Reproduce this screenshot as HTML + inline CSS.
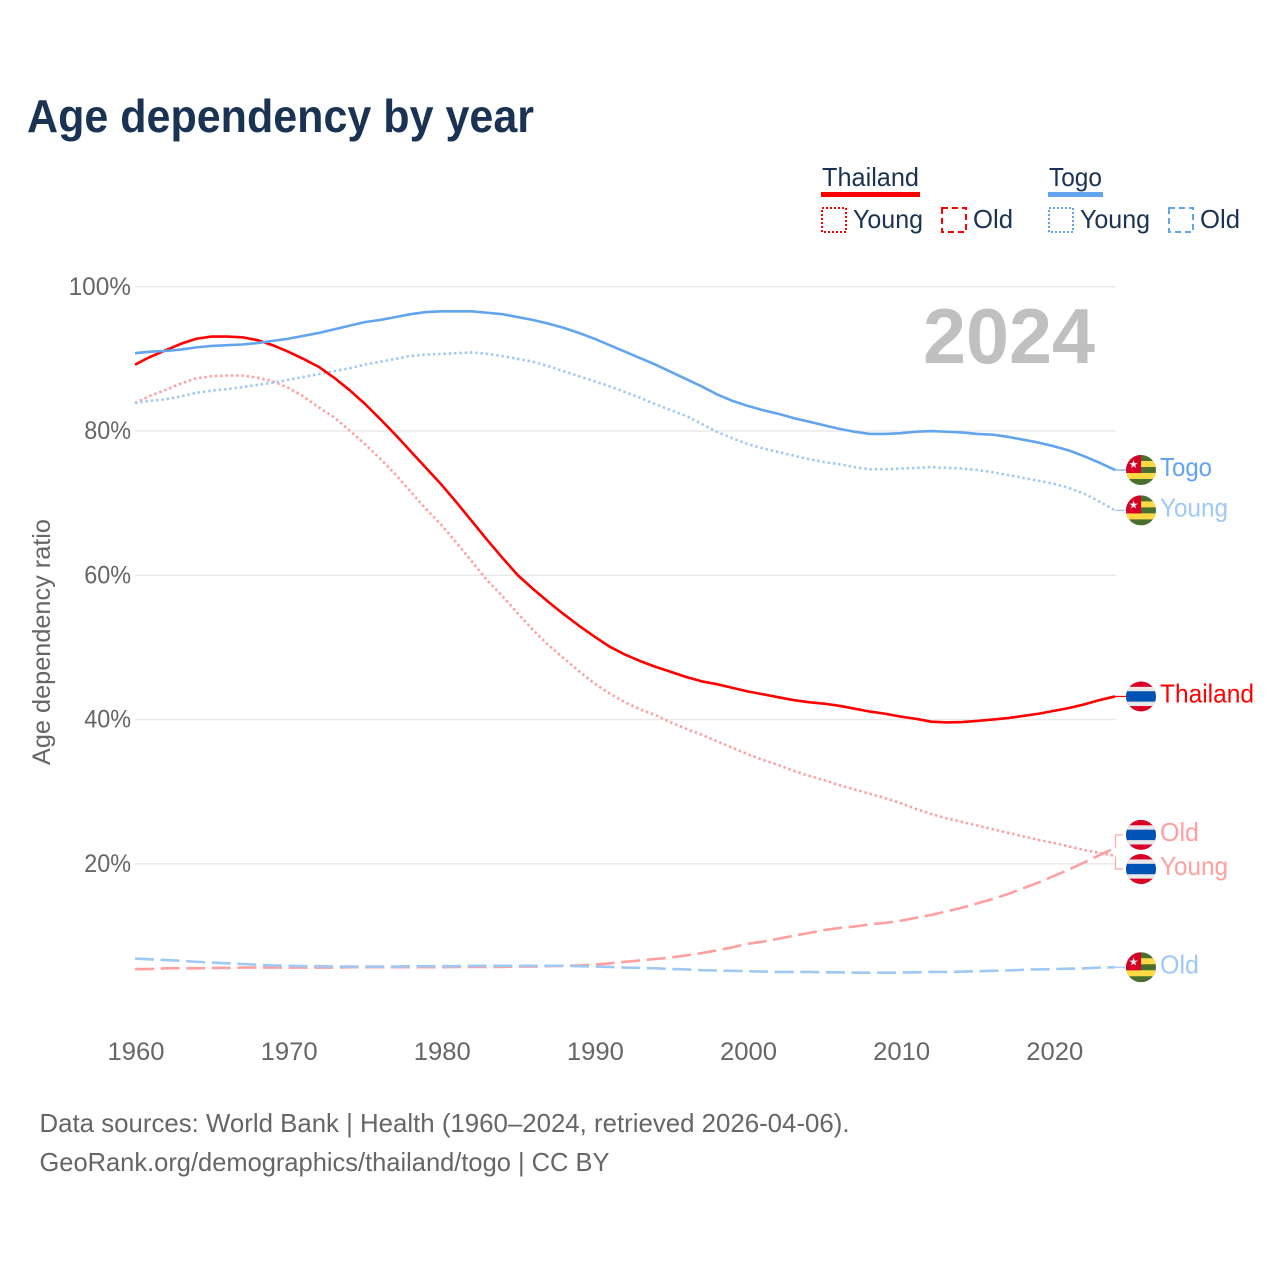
<!DOCTYPE html>
<html lang="en">
<head>
<meta charset="utf-8">
<title>Age dependency by year</title>
<style>
html,body{margin:0;padding:0;background:#fff;}
svg{display:block;font-family:"Liberation Sans",sans-serif;}
</style>
</head>
<body>
<svg id="chart" xmlns="http://www.w3.org/2000/svg" width="1280" height="1280" viewBox="0 0 1280 1280">
  <rect width="1280" height="1280" fill="#fff"/>
  <text x="27" y="132" font-size="46" font-weight="700" fill="#1a3353" textLength="507" lengthAdjust="spacingAndGlyphs">Age dependency by year</text>

  <g font-size="26" fill="#1a3353">
    <text x="822" y="186" textLength="97" lengthAdjust="spacingAndGlyphs">Thailand</text>
    <rect x="821" y="192" width="99" height="5" fill="#ff0000"/>
    <rect x="822" y="208" width="24" height="24" fill="none" stroke="#ff0000" stroke-width="2" stroke-dasharray="2 2"/>
    <text x="853" y="228" textLength="70" lengthAdjust="spacingAndGlyphs">Young</text>
    <rect x="942" y="208" width="24" height="24" fill="none" stroke="#ff0000" stroke-width="2" stroke-dasharray="6 4"/>
    <text x="973" y="228" textLength="40" lengthAdjust="spacingAndGlyphs">Old</text>
    <text x="1049" y="186" textLength="53" lengthAdjust="spacingAndGlyphs">Togo</text>
    <rect x="1048" y="192" width="55" height="5" fill="#62a5ee"/>
    <rect x="1049" y="208" width="24" height="24" fill="none" stroke="#62a5ee" stroke-width="2" stroke-dasharray="2 2"/>
    <text x="1080" y="228" textLength="70" lengthAdjust="spacingAndGlyphs">Young</text>
    <rect x="1169" y="208" width="24" height="24" fill="none" stroke="#62a5ee" stroke-width="2" stroke-dasharray="6 4"/>
    <text x="1200" y="228" textLength="40" lengthAdjust="spacingAndGlyphs">Old</text>
  </g>

  <g id="grid"></g>
  <g id="yticks" font-size="25" fill="#666" text-anchor="end"></g>
  <g id="xticks" font-size="25" fill="#666" text-anchor="middle"></g>
  <text transform="translate(50,642) rotate(-90)" font-size="25" fill="#666" text-anchor="middle" textLength="246" lengthAdjust="spacingAndGlyphs">Age dependency ratio</text>
  <text x="923" y="363" font-size="78" font-weight="700" fill="#c0c0c0" textLength="172" lengthAdjust="spacingAndGlyphs">2024</text>

  <g id="series"></g>
  <g id="labels" font-size="26"></g>

  <g font-size="26" fill="#666">
    <text x="39.5" y="1132" textLength="810" lengthAdjust="spacingAndGlyphs">Data sources: World Bank | Health (1960–2024, retrieved 2026-04-06).</text>
    <text x="39.5" y="1171" textLength="570" lengthAdjust="spacingAndGlyphs">GeoRank.org/demographics/thailand/togo | CC BY</text>
  </g>
</svg>
<script>
const startYear = 1960;
const yTickValues = [20, 40, 60, 80, 100];
const yTickLabels = ['20%', '40%', '60%', '80%', '100%'];
const xTickValues = [1960, 1970, 1980, 1990, 2000, 2010, 2020];
const xTickLabels = ['1960', '1970', '1980', '1990', '2000', '2010', '2020'];

const thailandTotal = [
  89.2,90.3,91.2,92.1,92.8,93.1,93.1,93.0,92.6,91.9,
  91.0,90.0,88.9,87.4,85.7,83.8,81.7,79.5,77.2,74.9,
  72.6,70.1,67.5,64.9,62.4,60.0,58.1,56.3,54.6,53.0,
  51.5,50.1,49.0,48.1,47.3,46.6,45.9,45.3,44.9,44.4,
  43.9,43.5,43.1,42.7,42.4,42.2,41.9,41.5,41.1,40.8,
  40.4,40.1,39.7,39.6,39.65,39.8,40.0,40.2,40.5,40.8,
  41.2,41.6,42.1,42.7,43.2];
const thailandYoung = [
  83.9,84.9,85.7,86.6,87.3,87.6,87.7,87.7,87.4,86.9,
  86.0,84.8,83.3,81.9,80.1,78.2,76.2,74.0,71.6,69.2,
  67.0,64.5,61.9,59.3,57.1,54.7,52.4,50.3,48.5,46.7,
  45.0,43.6,42.4,41.4,40.6,39.6,38.7,37.9,37.0,36.1,
  35.2,34.4,33.7,32.9,32.2,31.6,30.9,30.3,29.7,29.1,
  28.4,27.6,26.9,26.3,25.8,25.3,24.8,24.3,23.8,23.3,
  22.9,22.4,21.9,21.5,21.1];
const thailandOld = [
  5.4,5.4,5.5,5.5,5.5,5.55,5.55,5.6,5.6,5.6,
  5.6,5.6,5.6,5.6,5.65,5.65,5.65,5.65,5.65,5.65,
  5.65,5.7,5.7,5.7,5.7,5.75,5.75,5.8,5.85,5.9,
  6.0,6.2,6.4,6.6,6.8,7.0,7.3,7.6,8.0,8.4,
  8.9,9.2,9.6,10.0,10.4,10.8,11.1,11.3,11.6,11.8,
  12.1,12.5,12.9,13.4,13.9,14.5,15.1,15.8,16.6,17.4,
  18.3,19.2,20.2,21.2,22.2];
const togoTotal = [
  90.8,91.0,91.1,91.3,91.6,91.8,91.9,92.0,92.2,92.5,
  92.8,93.2,93.6,94.1,94.6,95.1,95.4,95.8,96.2,96.5,
  96.6,96.6,96.6,96.4,96.2,95.8,95.4,94.9,94.3,93.6,
  92.8,91.9,91.0,90.1,89.2,88.2,87.2,86.2,85.1,84.2,
  83.5,82.9,82.4,81.8,81.3,80.8,80.3,79.9,79.6,79.6,
  79.7,79.9,80.0,79.9,79.8,79.6,79.5,79.2,78.8,78.4,
  77.9,77.3,76.5,75.6,74.6];
const togoYoung = [
  83.9,84.2,84.4,84.8,85.3,85.6,85.8,86.1,86.4,86.7,
  87.1,87.5,87.9,88.3,88.7,89.2,89.6,90.0,90.4,90.6,
  90.7,90.8,90.9,90.7,90.4,90.0,89.6,89.0,88.3,87.6,
  86.9,86.2,85.4,84.6,83.7,82.9,82.1,81.0,79.9,79.0,
  78.2,77.6,77.1,76.6,76.1,75.7,75.4,75.0,74.7,74.7,
  74.8,74.9,75.0,74.9,74.8,74.6,74.3,73.9,73.5,73.1,
  72.7,72.1,71.3,70.2,69.0];
const togoOld = [
  6.85,6.75,6.65,6.55,6.4,6.3,6.2,6.1,6.0,5.9,
  5.85,5.8,5.8,5.75,5.75,5.75,5.75,5.75,5.8,5.8,
  5.8,5.8,5.85,5.85,5.85,5.85,5.85,5.85,5.85,5.8,
  5.75,5.7,5.6,5.55,5.5,5.4,5.35,5.25,5.2,5.15,
  5.1,5.05,5.0,5.0,5.0,4.95,4.95,4.9,4.9,4.9,
  4.9,4.95,5.0,5.0,5.05,5.1,5.15,5.2,5.3,5.35,
  5.4,5.45,5.5,5.6,5.65];

const NS = 'http://www.w3.org/2000/svg';
function xScale(year) { return 135 + (year - 1960) * (980 / 64); }
function yScale(v) { return 1008 - v * 7.212; }
function mk(tag, attrs, parent) {
  const el = document.createElementNS(NS, tag);
  for (const k in attrs) el.setAttribute(k, attrs[k]);
  parent.appendChild(el);
  return el;
}

const grid = document.getElementById('grid');
const yticks = document.getElementById('yticks');
yTickValues.forEach(function (v, i) {
  const line = mk('line', {x1: 135, x2: 1116, y1: yScale(v), y2: yScale(v), stroke: '#eaeaea', 'stroke-width': 1.5}, grid);
  
  
  const label = mk('text', {x: 131, y: yScale(v) + 8, textLength: yTickLabels[i].length * 15.6, lengthAdjust: 'spacingAndGlyphs'}, yticks);
  label.textContent = yTickLabels[i];
  
  
});

const xticks = document.getElementById('xticks');
xTickValues.forEach(function (yr, i) {
  const label = mk('text', {x: xScale(yr) + 1, y: 1060, textLength: 57, lengthAdjust: 'spacingAndGlyphs'}, xticks);
  label.textContent = xTickLabels[i];
  
  
});

function pathFrom(values) {
  return values.map(function (v, i) {
    return (i ? 'L' : 'M') + xScale(startYear + i).toFixed(2) + ' ' + yScale(v).toFixed(2);
  }).join(' ');
}

const seriesGroup = document.getElementById('series');
function drawLine(values, name, color, dash) {
  const attrs = {d: pathFrom(values), fill: 'none', stroke: color, 'stroke-width': 2.6, 'stroke-linejoin': 'round'};
  if (dash) attrs['stroke-dasharray'] = dash;
  const p = mk('path', attrs, seriesGroup);
  
  
}
drawLine(thailandOld, 'line-thailand-old', '#ff9f9f', '19 6.6');
drawLine(thailandYoung, 'line-thailand-young', '#ff9f9f', '2.4 2.9');
drawLine(togoOld, 'line-togo-old', '#a0c8f4', '19 6.6');
drawLine(togoYoung, 'line-togo-young', '#a0c8f4', '2.4 2.9');
drawLine(thailandTotal, 'line-thailand-total', '#ff0000');
drawLine(togoTotal, 'line-togo-total', '#62a5ee');

let clipCount = 0;
function drawFlag(parent, cy, country) {
  const cx = 1141;
  const g = mk('g', {}, parent);
  
  
  const id = 'flag-clip-' + (clipCount++);
  const clip = mk('clipPath', {id: id}, g);
  mk('circle', {cx: cx, cy: cy, r: 15}, clip);
  const inner = mk('g', {'clip-path': 'url(#' + id + ')'}, g);
  if (country === 'thailand') {
    mk('rect', {x: cx - 15, y: cy - 15, width: 30, height: 30, fill: '#d80027'}, inner);
    mk('rect', {x: cx - 15, y: cy - 9.6, width: 30, height: 19.2, fill: '#e8e8e8'}, inner);
    mk('rect', {x: cx - 15, y: cy - 5.2, width: 30, height: 10.4, fill: '#0052b4'}, inner);
  } else {
    mk('rect', {x: cx - 15, y: cy - 15, width: 30, height: 30, fill: '#496e2d'}, inner);
    mk('rect', {x: cx - 15, y: cy - 9, width: 30, height: 6, fill: '#ffda44'}, inner);
    mk('rect', {x: cx - 15, y: cy + 3, width: 30, height: 6, fill: '#ffda44'}, inner);
    mk('rect', {x: cx - 15, y: cy - 15, width: 15, height: 18, fill: '#d80027'}, inner);
    mk('text', {x: cx - 7.5, y: cy - 2, 'font-size': 11, fill: '#eeeeee', 'text-anchor': 'middle', 'font-family': '"DejaVu Sans",sans-serif'}, inner).textContent = '★';
  }
}

const labelsGroup = document.getElementById('labels');
function drawEndLabel(text, values, country, color, lineColor, width, shift, name) {
  const endY = yScale(values[values.length - 1]);
  const cy = endY + shift;
  if (shift === 0) {
    const lead = mk('line', {x1: 1115, x2: 1126, y1: endY, y2: endY, stroke: lineColor, 'stroke-width': 1.2}, labelsGroup);
    
    
  } else {
    const lead = mk('path', {d: 'M1123 ' + cy + ' H1115.5 V' + (endY + 0.5), fill: 'none', stroke: lineColor, 'stroke-width': 1.2}, labelsGroup);
    
    
  }
  drawFlag(labelsGroup, cy, country);
  const t = mk('text', {x: 1160, y: cy + 6, fill: color, textLength: width, lengthAdjust: 'spacingAndGlyphs'}, labelsGroup);
  t.textContent = text;
  
  
}
drawEndLabel('Togo', togoTotal, 'togo', '#62a5ee', '#62a5ee', 52, 0, 'togo-total');
drawEndLabel('Young', togoYoung, 'togo', '#a0c8f4', '#a0c8f4', 68, 0, 'togo-young');
drawEndLabel('Thailand', thailandTotal, 'thailand', '#ff0000', '#ff0000', 94, 0, 'thailand-total');
drawEndLabel('Old', thailandOld, 'thailand', '#ff9f9f', '#ffa8a8', 39, -13, 'thailand-old');
drawEndLabel('Young', thailandYoung, 'thailand', '#ff9f9f', '#ffa8a8', 68, 13.2, 'thailand-young');
drawEndLabel('Old', togoOld, 'togo', '#a0c8f4', '#a0c8f4', 39, 0, 'togo-old');
</script>
</body>
</html>
